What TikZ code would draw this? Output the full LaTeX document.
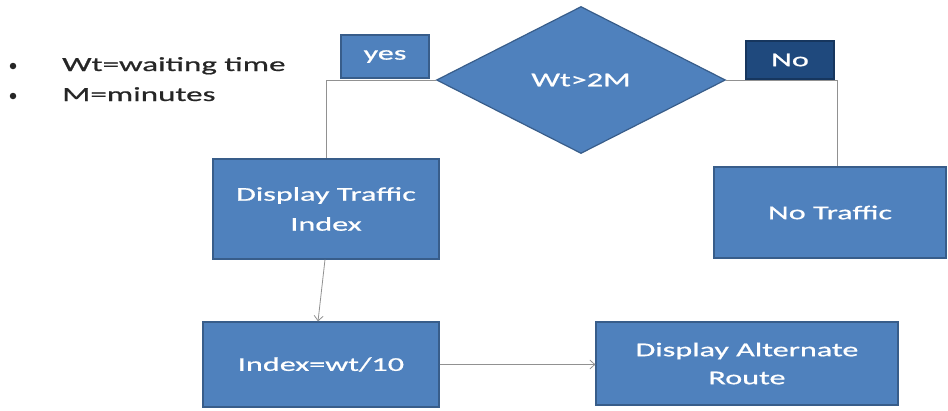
\documentclass[tikz,border=0pt]{standalone}
\usepackage{fontspec}
\setmainfont{Carlito}[FakeStretch=1.65,FakeBold=0.8]
\usetikzlibrary{shapes.geometric,arrows.meta}
\definecolor{boxfill}{RGB}{79,129,189}
\definecolor{boxedge}{RGB}{56,93,138}
\definecolor{darkfill}{RGB}{31,73,125}
\definecolor{darkedge}{RGB}{22,54,94}
\definecolor{linkgray}{RGB}{145,145,145}
\tikzset{
  procbox/.style={draw=boxedge, fill=boxfill, line width=1.2pt, inner sep=0pt,
    text=white, align=center, font=\fontsize{19.5}{28}\selectfont},
  tagbox/.style={procbox},
  darktag/.style={procbox, draw=darkedge, fill=darkfill},
  decision/.style={diamond, draw=boxedge, fill=boxfill, line width=1.2pt, inner sep=0pt,
    minimum width=289pt, minimum height=147pt, text=white,
    font=\fontsize{19.5}{24}\selectfont},
  link/.style={draw=linkgray, line width=0.8pt},
  arrowlink/.style={link, -{Straight Barb[length=5pt,width=9pt,line width=0.8pt]}},
  note/.style={anchor=base west, inner sep=0pt, text=black!85, font=\fontsize{20}{24}\selectfont},
  dot/.style={circle, fill=black!85, inner sep=0pt, minimum size=6.5pt}
}
\begin{document}
\begin{tikzpicture}[x=1pt,y=-1pt]
\useasboundingbox (0,0) rectangle (948,410);

% legend
\node[dot]  (b1) at (13,66)  {};
\node[note] (l1) at (62,71)  {Wt=waiting time};
\node[dot]  (b2) at (13,96) {};
\node[note] (l2) at (62,101) {M=minutes};

% decision and branch labels
\node[decision] (dec) at (581,80) {Wt>2M};
\node[tagbox, minimum width=88pt, minimum height=43pt] (yes) at (385,56.5) {\raisebox{-2pt}{yes}};
\node[darktag, minimum width=88pt, minimum height=38pt] (no) at (790,60) {No};

% process boxes
\node[procbox, minimum width=226pt, minimum height=100pt] (dti) at (326,209) {Display Traffic\\[2pt]Index};
\node[procbox, minimum width=232pt, minimum height=91pt] (nt) at (830,212.5) {No Traffic};
\node[procbox, minimum width=236pt, minimum height=85pt] (idx) at (321,364.5) {Index=wt/10};
\node[procbox, minimum width=302pt, minimum height=83pt] (alt) at (747,363.5) {Display Alternate\\Route};

% connectors
\coordinate (ntin) at ([xshift=7pt]nt.north);
\draw[link] (dec.west) -| (dti.north);
\draw[link] (dec.east) -| (ntin);
\draw[arrowlink] ([xshift=-1pt]dti.south) -- ([xshift=-3pt]idx.north);
\draw[arrowlink] (idx.east) -- (idx.east -| alt.west);
\end{tikzpicture}
\end{document}
